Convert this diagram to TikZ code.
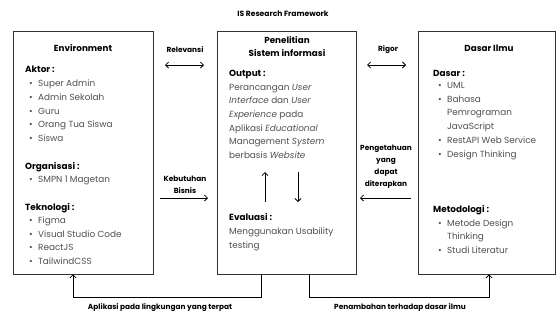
\documentclass[tikz,border=0pt]{standalone}
\usepackage{fontspec}
\setmainfont{Poppins}
\usetikzlibrary{arrows.meta}
\definecolor{bodytxt}{HTML}{505050}
\definecolor{boxline}{HTML}{333333}
\tikzset{
  box/.style={draw=boxline, line width=0.7bp, inner sep=0, fill=white},
  title/.style={font=\bfseries\fontsize{7.6}{9}\selectfont, inner sep=0},
  head/.style={font=\bfseries\fontsize{8.8}{13}\selectfont, inner sep=0, align=center},
  sub/.style={font=\bfseries\fontsize{8.9}{10}\selectfont, anchor=base west, inner sep=0},
  item/.style={font=\fontsize{8.9}{10}\selectfont, text=bodytxt, anchor=base west, inner sep=0},
  lab/.style={font=\bfseries\fontsize{7.4}{12}\selectfont, inner sep=0, align=center},
  arr/.style={line width=0.8bp, -{Straight Barb[length=3bp,width=6bp]}},
  darr/.style={line width=0.8bp, {Straight Barb[length=3bp,width=6bp]}-{Straight Barb[length=3bp,width=6bp]}},
  bul/.style={font=\fontsize{8.9}{10}\selectfont, text=bodytxt, anchor=base west, inner sep=0}
}
\begin{document}
\begin{tikzpicture}[x=1bp,y=-1bp]
\useasboundingbox (0,0) rectangle (559,320);
\node[title] (ttl) at (283,14) {IS Research Framework};
% boxes
\node[box, minimum width=140bp, minimum height=243bp] (env) at (83,152.5) {};
\node[box, minimum width=139bp, minimum height=243bp] (pen) at (286.5,152.5) {};
\node[box, minimum width=137bp, minimum height=243bp] (das) at (486.5,152.5) {};
% headings
\node[head] (henv) at (83,48) {Environment};
\node[head] (hpen) at (287,46.5) {Penelitian\\Sistem informasi};
\node[head] (hdas) at (489,48) {Dasar Ilmu};
% left content
\node[sub] (aktor) at (25,72.5) {Aktor :};
\foreach \t [count=\i] in {Super Admin, Admin Sekolah, Guru, Orang Tua Siswa, Siswa}{
  \node[bul] (ab\i) at (29,86.5+13.8*\i-13.8) {•};
  \node[item] (a\i) at (38,86.5+13.8*\i-13.8) {\t};
}
\node[sub] (org) at (25,169.5) {Organisasi :};
\node[bul] (ob1) at (29,182.5) {•};
\node[item] (o1) at (38,182.5) {SMPN 1 Magetan};
\node[sub] (tek) at (25,210.5) {Teknologi :};
\foreach \t [count=\i] in {Figma, Visual Studio Code, ReactJS, TailwindCSS}{
  \node[bul] (tb\i) at (29,223.5+13.7*\i-13.7) {•};
  \node[item] (t\i) at (38,223.5+13.7*\i-13.7) {\t};
}
% middle content
\node[sub] (out) at (229,76.5) {Output :};
\foreach \t [count=\i] in {Perancangan \textit{User}, \textit{Interface} dan \textit{User}, \textit{Experience} pada, Aplikasi \textit{Educational}, Management \textit{System}, berbasis \textit{Website}}{
  \node[item] (p\i) at (229,90.3+13.6*\i-13.6) {\t};
}
\coordinate (upb) at (265,202);
\coordinate (upt) at (265,172);
\coordinate (dnt) at (298,172);
\coordinate (dnb) at (298,202);
\draw[arr] (upb) -- (upt);
\draw[arr] (dnt) -- (dnb);
\node[sub] (eva) at (229,220.5) {Evaluasi :};
\node[item] (e1) at (229,234.3) {Menggunakan Usability};
\node[item] (e2) at (229,248) {testing};
% right content
\node[sub] (dsr) at (433,76.5) {Dasar :};
\foreach \t [count=\i] in {UML, Bahasa}{
  \node[bul] (db\i) at (438,88.5+13.7*\i-13.7) {•};
  \node[item] (d\i) at (447,88.5+13.7*\i-13.7) {\t};
}
\node[item] (d3) at (447,115.9) {Pemrograman};
\node[item] (d4) at (447,129.6) {JavaScript};
\node[bul] (db5) at (438,143.3) {•};
\node[item] (d5) at (447,143.3) {RestAPI Web Service};
\node[bul] (db6) at (438,157) {•};
\node[item] (d6) at (447,157) {Design Thinking};
\node[sub] (met) at (433,212.5) {Metodologi :};
\node[bul] (mb1) at (438,226.2) {•};
\node[item] (m1) at (447,226.2) {Metode Design};
\node[item] (m2) at (447,239.9) {Thinking};
\node[bul] (mb3) at (438,253.5) {•};
\node[item] (m3) at (447,253.5) {Studi Literatur};
% side connectors
\node[lab] (lrel) at (185,50) {Relevansi};
\coordinate (rel1) at (165,65);
\coordinate (rel2) at (204,65);
\draw[darr] (rel1) -- (rel2);
\node[lab] (lkeb) at (185,185) {Kebutuhan\\Bisnis};
\coordinate (keb1) at (160,198);
\coordinate (keb2) at (208,198);
\draw[arr] (keb1) -- (keb2);
\node[lab] (lrig) at (388,50) {Rigor};
\coordinate (rig1) at (367,65);
\coordinate (rig2) at (406,65);
\draw[darr] (rig1) -- (rig2);
\node[lab] (lpen) at (386,167) {Pengetahuan\\yang\\dapat\\diterapkan};
\coordinate (pg1) at (411,198);
\coordinate (pg2) at (360,198);
\draw[arr] (pg1) -- (pg2);
% bottom connectors
\coordinate (bl) at (73,297);
\coordinate (br) at (489,297);
\draw[arr] (pen.south -| 261,0) |- (bl) -- (bl |- env.south);
\draw[arr] (pen.south -| 309,0) |- (br) -- (br |- das.south);
\node[lab] (lapl) at (160,308) {Aplikasi pada lingkungan yang terpat};
\node[lab] (lpnb) at (400,308) {Penambahan terhadap dasar ilmu};
\end{tikzpicture}
\end{document}
